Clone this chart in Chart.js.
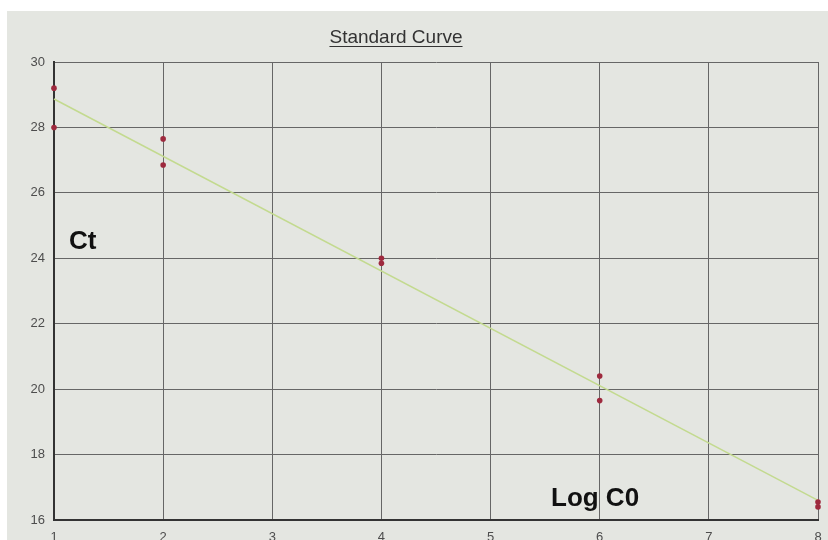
<!DOCTYPE html>
<html>
<head>
<meta charset="utf-8">
<script src="https://cdn.jsdelivr.net/npm/chart.js@4/dist/chart.umd.min.js"></script>
<style>
  html, body { margin: 0; padding: 0; background: #ffffff; }
  #wrap { position: relative; width: 828px; height: 540px; overflow: hidden; }
  #box { position: absolute; left: 0; top: 0; width: 828px; height: 560px; }
  .lbl { position: absolute; font-family: "Liberation Sans", Arial, sans-serif; color: #111; font-weight: bold; white-space: nowrap; }
  #title { position: absolute; left: 0; width: 792px; top: 26px; text-align: center; font-family: "Liberation Sans", Arial, sans-serif; font-size: 19px; color: #333; text-decoration: underline; text-underline-offset: 3px; }
</style>
</head>
<body>
<div id="wrap">
  <div id="box"><canvas id="c"></canvas></div>
  <div id="title">Standard Curve</div>
  <div class="lbl" id="ct" style="left:69px; top:225px; font-size:26px;">Ct</div>
  <div class="lbl" id="logc" style="left:551px; top:482px; font-size:26px;">Log C0</div>
</div>
<script>
// Data
const sampleLogC0 = [1, 1, 2, 2, 4, 4, 6, 6, 8, 8];
const sampleCt    = [29.2, 28.0, 27.65, 26.85, 24.0, 23.85, 20.4, 19.65, 16.55, 16.4];
const fitLogC0 = [1, 8];
const fitCt    = [28.87, 16.6];
const xTicks = [1, 2, 3, 4, 5, 6, 7, 8];
const yTicks = [16, 18, 20, 22, 24, 26, 28, 30];

const paper = {
  id: 'paper',
  beforeDraw(chart) {
    const ctx = chart.ctx;
    ctx.save();
    ctx.fillStyle = '#ffffff';
    ctx.fillRect(0, 0, chart.width, chart.height);
    ctx.fillStyle = '#e4e6e1';
    ctx.fillRect(7, 11, chart.width - 7, chart.height - 11);
    ctx.restore();
  }
};

new Chart(document.getElementById('c'), {
  type: 'scatter',
  data: {
    datasets: [
      {
        label: 'Fit',
        data: fitLogC0.map((x, i) => ({ x: x, y: fitCt[i] })),
        showLine: true,
        borderColor: '#c3da8f',
        borderWidth: 1.5,
        pointRadius: 0,
        fill: false,
        clip: false,
        order: 2
      },
      {
        label: 'Samples',
        data: sampleLogC0.map((x, i) => ({ x: x, y: sampleCt[i] })),
        showLine: false,
        pointRadius: 2.8,
        pointBackgroundColor: '#9e2a3e',
        pointBorderColor: '#9e2a3e',
        pointBorderWidth: 0,
        clip: false,
        order: 1
      }
    ]
  },
  options: {
    responsive: true,
    maintainAspectRatio: false,
    animation: false,
    devicePixelRatio: 1,
    layout: { padding: { left: 0, right: 10, top: 62, bottom: 0 } },
    plugins: { legend: { display: false }, tooltip: { enabled: false }, title: { display: false } },
    scales: {
      x: {
        type: 'linear',
        min: 1, max: 8,
        afterBuildTicks: (s) => { s.ticks = xTicks.map(v => ({ value: v })); },
        afterFit: (s) => { s.height = 40; s.paddingLeft = 0; s.paddingRight = 0; },
        ticks: { color: '#4d4d4d', font: { family: '"Liberation Sans", Arial, sans-serif', size: 13 }, padding: 10 },
        grid: { color: '#666666', lineWidth: 1, drawTicks: false },
        border: { color: '#333333', width: 2 }
      },
      y: {
        type: 'linear',
        min: 16, max: 30,
        afterBuildTicks: (s) => { s.ticks = yTicks.map(v => ({ value: v })); },
        afterFit: (s) => { s.width = 54; s.paddingTop = 0; s.paddingBottom = 0; },
        ticks: { color: '#4d4d4d', font: { family: '"Liberation Sans", Arial, sans-serif', size: 13 }, padding: 9 },
        grid: { color: '#666666', lineWidth: 1, drawTicks: false },
        border: { color: '#333333', width: 2 }
      }
    }
  },
  plugins: [paper]
});
</script>
</body>
</html>
